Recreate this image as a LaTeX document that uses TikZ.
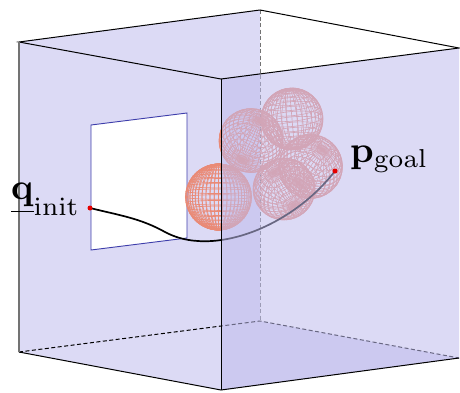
\documentclass[tikz,border=0pt]{standalone}
\definecolor{facelight}{RGB}{220,218,245}
\definecolor{faceglass}{RGB}{191,188,237}
\definecolor{wire}{RGB}{234,138,118}
\definecolor{winblue}{RGB}{60,60,170}
\newcommand{\wiresphere}[6]{% cx cy r tilt spin
  \begin{scope}[shift={(#1,#2)},rotate=#5,wirestyle]
    \foreach \la in {-80,-70,...,80}{
      \pgfmathsetmacro{\ecy}{#3*sin(\la)*cos(#4)}
      \pgfmathsetmacro{\ea}{#3*cos(\la)}
      \pgfmathsetmacro{\eb}{max(#3*cos(\la)*sin(#4),0.01)}
      \draw (0,\ecy) ellipse [x radius=\ea, y radius=\eb];
    }
    \foreach \lo in {0,#6,...,179}{
      \pgfmathsetmacro{\eang}{atan2(sin(\lo)*sin(#4),cos(\lo))+90}
      \pgfmathsetmacro{\eb}{max(#3*abs(sin(\lo)*cos(#4)),0.01)}
      \draw[rotate=\eang] (0,0) ellipse [x radius=#3, y radius=\eb];
    }
  \end{scope}
}
\tikzset{
  edge/.style={line width=1pt,black},
  hidden/.style={line width=1pt,black,dash pattern=on 4pt off 2.5pt},
  winedge/.style={line width=0.9pt,winblue},
  wirestyle/.style={line width=0.65pt,wire},
  traj/.style={line width=1.7pt,black,line cap=round},
  dot/.style={circle,fill=red!90!black,inner sep=0pt,minimum size=5pt},
  lab/.style={anchor=base west,inner sep=0pt,text=black}
}
\begin{document}
\begin{tikzpicture}[x=1pt,y=1pt,yscale=-1]
\useasboundingbox (0,0) rectangle (460,392);
\coordinate (LT) at (19,42);
\coordinate (BT) at (260,10);
\coordinate (RT) at (459,48);
\coordinate (FT) at (221,79);
\coordinate (LB) at (19,352);
\coordinate (BB) at (260,321);
\coordinate (RB) at (459,358);
\coordinate (FB) at (221,390);
% opaque faces behind everything
\fill[facelight] (LT) -- (BT) -- (BB) -- (RB) -- (FB) -- (LB) -- cycle;
% window
\fill[white] (91,125) -- (187,113) -- (187,238) -- (91,250) -- cycle;
\draw[winedge] (91,125) -- (187,113) -- (187,238) -- (91,250) -- cycle;
% hidden edges
\draw[hidden,black!55] (BT) -- (BB);
\draw[hidden] (LB) -- (BB) -- (RB);
% obstacles
\wiresphere{218.5}{197}{33}{4}{0}{7.5}
\wiresphere{292}{119}{31}{14}{-5}{10}
\wiresphere{251}{140.5}{32}{48}{25}{10}
\wiresphere{284}{189}{31}{52}{-30}{10}
\wiresphere{310.5}{166.5}{32}{50}{35}{10}
% trajectory
\coordinate (qstart) at (90,208);
\coordinate (pend) at (335,171);
\draw[traj] (qstart) .. controls (118,215) and (140,218) .. (165,232) .. controls (180,240) and (196,242) .. (212,241) .. controls (256,238) and (305,210) .. (pend);
% translucent front right face
\fill[faceglass,fill opacity=0.55] (FT) -- (RT) -- (RB) -- (FB) -- cycle;
% visible edges
\draw[edge] (LT) -- (BT) -- (RT) -- (FT) -- cycle;
\draw[edge] (FT) -- (FB);
\draw[edge] (LB) -- (FB) -- (RB);
\draw[line width=1.2pt,black!55] (LT) -- (LB);
% end points
\node[dot] (qdot) at (qstart) {};
\node[dot] (pdot) at (pend) {};
% labels
\node[lab] (qlabel) at (11,199) {\scalebox{3.7}{$\underline{\mathbf{q}}_{\mathrm{init}}$}};
\node[lab] (plabel) at (350,162) {\scalebox{3.7}{$\mathbf{p}_{\mathrm{goal}}$}};
\end{tikzpicture}
\end{document}
